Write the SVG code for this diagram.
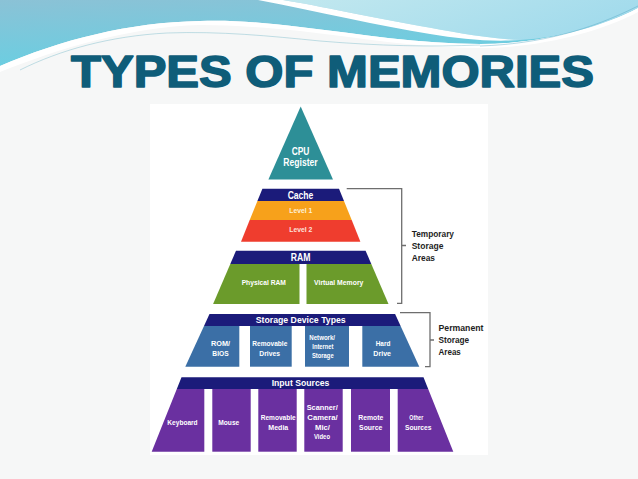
<svg xmlns="http://www.w3.org/2000/svg" width="638" height="479" viewBox="0 0 638 479">
<defs>
<linearGradient id="gBlue" x1="0" y1="0" x2="0.35" y2="1">
<stop offset="0" stop-color="#8bc2d6"/>
<stop offset="1" stop-color="#68cfe2"/>
</linearGradient>
<linearGradient id="gPale" x1="0" y1="0" x2="1" y2="0.3">
<stop offset="0" stop-color="#c2e8ef"/>
<stop offset="1" stop-color="#a2dbec"/>
</linearGradient>
<style>
.lbl{font-family:"Liberation Sans Narrow","Liberation Sans",Arial,sans-serif;font-weight:bold;fill:#ffffff;text-anchor:middle}
.s10{font-size:10px}
.s9{font-size:9.3px}
.s6{font-size:6.6px}
.side{font-family:"Liberation Sans Narrow","Liberation Sans",Arial,sans-serif;font-weight:bold;font-size:9.6px;fill:#1e1e1e}
.brk{fill:none;stroke:#6e6e6e;stroke-width:1.3}
.navy{fill:#1b1b7a}
.grn{fill:#6b9b2b}
.blu{fill:#3b6fa6}
.pur{fill:#6a30a0}
</style>
</defs>
<rect x="0" y="0" width="638" height="479" fill="#f6f7f7"/>
<g id="header">
<path d="M0,0 H638 V8 C600,28 540,44 480,44 C420,44 360,34 300,27 C260,22 230,20 200,21 C130,22 60,40 0,66 Z" fill="url(#gBlue)"/>
<path d="M283,0 H638 V8 C600,27 560,38 520,40 C480,38 450,31 420,26 C370,17 320,6 283,0 Z" fill="url(#gPale)"/>
<path d="M258,0 H283 C320,6 370,17 420,26 C450,31 480,38 520,40 C490,42 460,39 430,34 C380,26 320,12 258,0 Z" fill="#ffffff"/>
<path d="M0,66 C60,40 130,22 200,21 C230,20 260,22 300,27 C360,34 420,44 480,44 C540,44 600,28 638,8 V12 C600,32 540,48 480,48 C420,48 360,38 300,31 C260,27 230,25 200,25 C130,27 60,48 0,72 Z" fill="#ffffff"/>
<path d="M20,70 C60,50 110,36 167,33 C220,31 270,36 320,41 C380,46 430,47 480,45" fill="none" stroke="#5aaabf" stroke-width="0.6" opacity="0.6"/>
<path d="M480,46 C540,44 590,30 638,6" fill="none" stroke="#4fa3c0" stroke-width="0.7" opacity="0.6"/>
<text x="71" y="87" font-family="Liberation Sans,Arial,sans-serif" font-weight="bold" font-size="45" fill="#0f5d79" stroke="#0f5d79" stroke-width="1.6" stroke-linejoin="round" textLength="523" lengthAdjust="spacingAndGlyphs">TYPES OF MEMORIES</text>
</g>
<rect id="panel" x="150" y="104" width="338" height="351" fill="#ffffff"/>
<g id="cpu">
<polygon points="300.7,106.5 333,179.5 268.4,179.5" fill="#2d8f97"/>
<text class="lbl s10" x="300.5" y="155.3" textLength="17.7" lengthAdjust="spacingAndGlyphs">CPU</text>
<text class="lbl s10" x="300.5" y="166" textLength="34.3" lengthAdjust="spacingAndGlyphs">Register</text>
</g>
<g id="cache">
<polygon class="navy" points="262.4,188.7 339,188.7 344,201 257.4,201"/>
<text class="lbl s10" x="300.5" y="198.5" textLength="25.7" lengthAdjust="spacingAndGlyphs">Cache</text>
</g>
<g id="level1">
<polygon points="257.4,201 344,201 351.7,220 249.7,220" fill="#f7a11b"/>
<text class="lbl s6" x="300.8" y="213.4" textLength="23" lengthAdjust="spacingAndGlyphs" style="fill:#fdf0d8">Level 1</text>
</g>
<g id="level2">
<polygon points="249.7,220 351.7,220 360.4,241.7 241,241.7" fill="#ef3d2e"/>
<text class="lbl s6" x="300.8" y="232.4" textLength="23" lengthAdjust="spacingAndGlyphs" style="fill:#fde2dc">Level 2</text>
</g>
<g id="ram">
<polygon class="navy" points="236,250.7 365.6,250.7 371.3,264 230.3,264"/>
<text class="lbl s10" x="300.5" y="260.5" textLength="19.7" lengthAdjust="spacingAndGlyphs">RAM</text>
</g>
<g id="physical-ram">
<polygon class="grn" points="230.3,264 299.5,264 299.5,304 213.1,304"/>
<text class="lbl s6" x="263.8" y="285.2" textLength="44.3" lengthAdjust="spacingAndGlyphs">Physical RAM</text>
</g>
<g id="virtual-memory">
<polygon class="grn" points="306.5,264 371.3,264 388.5,304 306.5,304"/>
<text class="lbl s6" x="338.7" y="285.2" textLength="49.3" lengthAdjust="spacingAndGlyphs">Virtual Memory</text>
</g>
<g id="storage-device-types">
<polygon class="navy" points="209.5,314 395.1,314 400.6,326 204,326"/>
<text class="lbl s9" x="300.7" y="323.3" textLength="90" lengthAdjust="spacingAndGlyphs">Storage Device Types</text>
</g>
<g id="rom-bios">
<polygon class="blu" points="204,326 239.3,326 239.3,366.7 185.3,366.7"/>
<text class="lbl s6" x="220.5" y="345.7" textLength="19" lengthAdjust="spacingAndGlyphs">ROM/</text>
<text class="lbl s6" x="220.5" y="355.7" textLength="16.3" lengthAdjust="spacingAndGlyphs">BIOS</text>
</g>
<g id="removable-drives">
<rect class="blu" x="250" y="326" width="41.7" height="40.7"/>
<text class="lbl s6" x="269.8" y="345.7" textLength="35" lengthAdjust="spacingAndGlyphs">Removable</text>
<text class="lbl s6" x="269.7" y="355.7" textLength="20.7" lengthAdjust="spacingAndGlyphs">Drives</text>
</g>
<g id="network-storage">
<rect class="blu" x="305" y="326" width="44" height="40.7"/>
<text class="lbl s6" x="322.2" y="339.7" textLength="25.7" lengthAdjust="spacingAndGlyphs">Network/</text>
<text class="lbl s6" x="322.8" y="349.1" textLength="21" lengthAdjust="spacingAndGlyphs">Internet</text>
<text class="lbl s6" x="322.8" y="358" textLength="21.7" lengthAdjust="spacingAndGlyphs">Storage</text>
</g>
<g id="hard-drive">
<polygon class="blu" points="362.3,326 400.6,326 419.3,366.7 362.3,366.7"/>
<text class="lbl s6" x="383" y="345.7" textLength="14.7" lengthAdjust="spacingAndGlyphs">Hard</text>
<text class="lbl s6" x="382.2" y="355.7" textLength="17.7" lengthAdjust="spacingAndGlyphs">Drive</text>
</g>
<g id="input-sources">
<polygon class="navy" points="181.5,377.3 423.5,377.3 428.2,389 176.8,389"/>
<text class="lbl s9" x="300.5" y="386" textLength="57.7" lengthAdjust="spacingAndGlyphs">Input Sources</text>
</g>
<g id="keyboard">
<polygon class="pur" points="176.8,389 204.3,389 204.3,451.7 151.7,451.7"/>
<text class="lbl s6" x="182.5" y="424.7" textLength="30.3" lengthAdjust="spacingAndGlyphs">Keyboard</text>
</g>
<g id="mouse">
<rect class="pur" x="212.3" y="389" width="38.4" height="62.7"/>
<text class="lbl s6" x="228.8" y="424.7" textLength="21" lengthAdjust="spacingAndGlyphs">Mouse</text>
</g>
<g id="removable-media">
<rect class="pur" x="258.3" y="389" width="38.4" height="62.7"/>
<text class="lbl s6" x="278.2" y="419.7" textLength="35" lengthAdjust="spacingAndGlyphs">Removable</text>
<text class="lbl s6" x="278.3" y="429.7" textLength="20" lengthAdjust="spacingAndGlyphs">Media</text>
</g>
<g id="scanner">
<rect class="pur" x="304.3" y="389" width="38.4" height="62.7"/>
<text class="lbl s6" x="322.2" y="410" textLength="31" lengthAdjust="spacingAndGlyphs">Scanner/</text>
<text class="lbl s6" x="322.5" y="419.7" textLength="30.3" lengthAdjust="spacingAndGlyphs">Camera/</text>
<text class="lbl s6" x="322.5" y="429.7" textLength="15" lengthAdjust="spacingAndGlyphs">Mic/</text>
<text class="lbl s6" x="322" y="439" textLength="16" lengthAdjust="spacingAndGlyphs">Video</text>
</g>
<g id="remote-source">
<rect class="pur" x="351" y="389" width="39" height="62.7"/>
<text class="lbl s6" x="370.8" y="419.7" textLength="25" lengthAdjust="spacingAndGlyphs">Remote</text>
<text class="lbl s6" x="370.7" y="429.7" textLength="23.3" lengthAdjust="spacingAndGlyphs">Source</text>
</g>
<g id="other-sources">
<polygon class="pur" points="397.7,389 428.2,389 453.3,451.7 397.7,451.7"/>
<text class="lbl s6" x="416.3" y="419.7" textLength="14" lengthAdjust="spacingAndGlyphs">Other</text>
<text class="lbl s6" x="418.3" y="429.7" textLength="26.7" lengthAdjust="spacingAndGlyphs">Sources</text>
</g>
<g id="connectors">
<path class="brk" d="M346.7,188.7 H401.7 V303.3 H397 M401.7,245.5 H406"/>
<path class="brk" d="M400,312.7 H430 V366.7 H425 M430,340 H434"/>
</g>
<g id="temporary-label">
<text class="side" x="411.7" y="236.7" textLength="42.3" lengthAdjust="spacingAndGlyphs">Temporary</text>
<text class="side" x="411.7" y="249" textLength="31.7" lengthAdjust="spacingAndGlyphs">Storage</text>
<text class="side" x="411.7" y="261" textLength="23.3" lengthAdjust="spacingAndGlyphs">Areas</text>
</g>
<g id="permanent-label">
<text class="side" x="438.5" y="331" textLength="45" lengthAdjust="spacingAndGlyphs">Permanent</text>
<text class="side" x="438.5" y="343.3" textLength="30.7" lengthAdjust="spacingAndGlyphs">Storage</text>
<text class="side" x="438.5" y="355.3" textLength="22.3" lengthAdjust="spacingAndGlyphs">Areas</text>
</g>
</svg>
